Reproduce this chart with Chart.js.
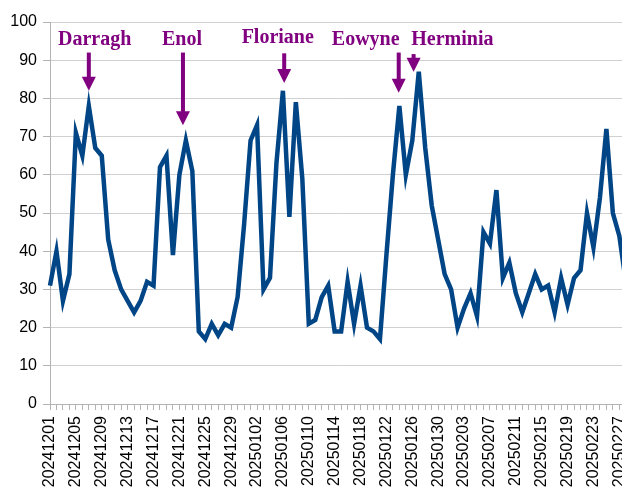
<!DOCTYPE html>
<html>
<head>
<meta charset="utf-8">
<script src="https://cdn.jsdelivr.net/npm/chart.js@4/dist/chart.umd.min.js"></script>
<style>
    html, body { margin: 0; padding: 0; background: #fff; overflow: hidden; }
    #wrap { width: 651px; height: 490px; position: relative; }
</style>
</head>
<body>
<div id="wrap"><canvas id="stormChart"></canvas></div>
<script>
// daily values, 1 Dec 2024 .. 28 Feb 2025
const startDate = '2024-12-01';
const dayCount = 90;
const values = [
    31, 40, 27, 34, 71, 65, 78, 67, 65, 43,
    35, 30, 27, 24, 27, 32, 31, 62, 65, 39,
    60, 69, 61, 19, 17, 21, 18, 21, 20, 28,
    47, 69, 73, 30, 33, 63, 82, 49, 79, 59,
    21, 22, 28, 31, 19, 19, 32, 21, 31, 20,
    19, 17, 39, 60, 78, 60, 69, 87, 67, 52,
    43, 34, 30, 20, 25, 29, 23, 45, 42, 56,
    33, 37, 29, 24, 29, 34, 30, 31, 24, 33,
    26, 33, 35, 50, 41, 54, 72, 50, 44, 32
];
const yTicks = [0, 10, 20, 30, 40, 50, 60, 70, 80, 90, 100];

// storm names and where their arrows point (category index / value)
const stormNames = ['Darragh', 'Enol', 'Floriane', 'Eowyne', 'Herminia'];
const stormTextIdx = [6.9, 20.4, 35.2, 48.8, 62.2];
const stormTextVal = [94, 94, 94.4, 94, 94];
const stormArrowIdx = [6, 20.55, 36.2, 53.9, 56.2];
const stormArrowTop = [92, 92, 91.8, 92, 91.6];
const stormArrowTip = [82, 73, 84, 81.5, 87];

function makeLabels() {
    const out = [];
    const d = new Date(startDate + 'T00:00:00Z');
    for (let i = 0; i < dayCount; i++) {
        const y = d.getUTCFullYear();
        const m = String(d.getUTCMonth() + 1).padStart(2, '0');
        const dd = String(d.getUTCDate()).padStart(2, '0');
        out.push('' + y + m + dd);
        d.setUTCDate(d.getUTCDate() + 1);
    }
    return out;
}
const labels = makeLabels();

const purple = '#800080';

// arrows + names on top of the line
const stormPlugin = {
    id: 'storms',
    afterDatasetsDraw(chart) {
        const ctx = chart.ctx;
        const xs = chart.scales.x;
        const ys = chart.scales.y;
        ctx.save();
        ctx.fillStyle = purple;
        ctx.font = 'bold 20px "Liberation Serif", "Times New Roman", serif';
        ctx.textAlign = 'center';
        ctx.textBaseline = 'alphabetic';
        stormNames.forEach((name, i) => {
            const tx = xs.getPixelForValue(stormTextIdx[i]);
            const ty = ys.getPixelForValue(stormTextVal[i]);
            ctx.fillText(name, tx, ty);

            const ax = xs.getPixelForValue(stormArrowIdx[i]);
            const top = ys.getPixelForValue(stormArrowTop[i]);
            const tip = ys.getPixelForValue(stormArrowTip[i]);
            const head = 14;
            ctx.fillRect(ax - 2, top, 4, tip - top - head + 1);
            ctx.beginPath();
            ctx.moveTo(ax - 7, tip - head);
            ctx.lineTo(ax + 7, tip - head);
            ctx.lineTo(ax, tip);
            ctx.closePath();
            ctx.fill();
        });
        ctx.restore();
    }
};

const ctx = document.getElementById('stormChart').getContext('2d');
new Chart(ctx, {
    type: 'line',
    data: {
        labels: labels,
        datasets: [{
            data: values,
            borderColor: '#004586',
            borderWidth: 4.5,
            pointRadius: 0,
            tension: 0,
            fill: false,
            clip: false
        }]
    },
    options: {
        responsive: true,
        maintainAspectRatio: false,
        animation: false,
        layout: { padding: { top: 22, right: 0, left: 0, bottom: 0 } },
        plugins: {
            legend: { display: false },
            tooltip: { enabled: false }
        },
        scales: {
            x: {
                offset: false,
                grid: {
                    display: true,
                    drawOnChartArea: false,
                    drawTicks: true,
                    tickLength: 6,
                    color: '#b3b3b3'
                },
                border: { color: '#b3b3b3' },
                ticks: {
                    autoSkip: false,
                    maxRotation: 90,
                    minRotation: 90,
                    padding: 6,
                    color: '#000',
                    font: { size: 16, family: '"Liberation Sans", Arial, sans-serif' },
                    callback: function(val, idx) {
                        return idx % 4 === 0 ? labels[idx] : '';
                    }
                },
                afterFit: function(scale) { scale.height = 86; }
            },
            y: {
                min: 0,
                max: 100,
                afterBuildTicks: function(scale) {
                    scale.ticks = yTicks.map(v => ({ value: v }));
                },
                grid: {
                    color: '#d0d0d0',
                    lineWidth: 1,
                    tickLength: 7,
                    tickColor: '#b3b3b3'
                },
                border: { color: '#b3b3b3' },
                ticks: {
                    padding: 6,
                    color: '#000',
                    font: { size: 16, family: '"Liberation Sans", Arial, sans-serif' }
                },
                afterFit: function(scale) { scale.width = 50; }
            }
        }
    },
    plugins: [stormPlugin]
});
</script>
</body>
</html>
